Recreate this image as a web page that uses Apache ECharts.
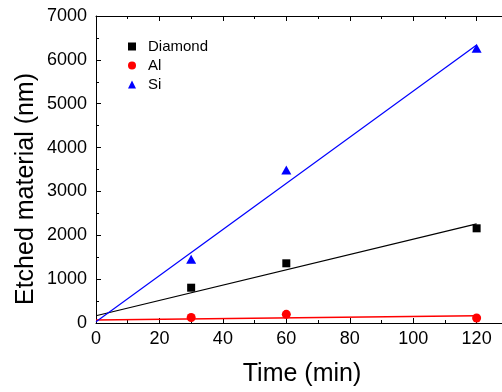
<!DOCTYPE html>
<html>
<head>
<meta charset="utf-8">
<script src="https://cdn.jsdelivr.net/npm/echarts@6/dist/echarts.min.js"></script>
<style>
  html, body { margin: 0; padding: 0; background: #fff; }
  #chart { width: 502px; height: 392px; }
</style>
</head>
<body>
<div id="chart"></div>
<script>
// Etch depth measured at each time (min)
const times = [30, 60, 120];
const diamond = [805, 1361, 2159];
const aluminium = [125, 198, 114];
const silicon = [1452, 3488, 6263];

// Linear fit end points, [time, depth]
const diamondFit = [[0, 165], [120, 2262]];
const aluminiumFit = [[0, 67], [120, 164]];
const siliconFit = [[0, 28], [120, 6340]];

const xTicks = [0, 20, 40, 60, 80, 100, 120];
const yTicks = [0, 1000, 2000, 3000, 4000, 5000, 6000, 7000];

const FONT = '"Liberation Sans", Arial, sans-serif';

function pairs(values) {
  return times.map((t, i) => [t, values[i]]);
}

const chart = echarts.init(document.getElementById('chart'), null, { renderer: 'canvas' });

const tickCommon = {
  axisLine: { show: true, onZero: false, lineStyle: { color: '#000', width: 1 } },
  axisTick: { show: true, inside: true, length: 5, lineStyle: { color: '#000', width: 1 } },
  minorTick: { show: true, splitNumber: 2, length: 3, lineStyle: { color: '#000', width: 1 } },
  splitLine: { show: false }
};

chart.setOption({
  animation: false,
  backgroundColor: '#fff',
  textStyle: { fontFamily: FONT },
  grid: { left: 96, top: 16, right: 0, bottom: 69, containLabel: false },
  xAxis: [
    Object.assign({
      type: 'value', position: 'bottom', min: 0, max: 128, interval: 20,
      axisLabel: {
        color: '#000', fontSize: 18, fontFamily: FONT, margin: 7,
        showMaxLabel: false,
        formatter: v => (xTicks.indexOf(v) >= 0 ? String(v) : '')
      }
    }, tickCommon),
    Object.assign({
      type: 'value', position: 'top', min: 0, max: 128, interval: 20,
      axisLabel: { show: false }
    }, tickCommon)
  ],
  yAxis: [
    Object.assign({
      type: 'value', position: 'left', min: 0, max: 7000, interval: 1000,
      axisLabel: {
        color: '#000', fontSize: 18, fontFamily: FONT, margin: 9,
        formatter: v => (yTicks.indexOf(v) >= 0 ? String(v) : '')
      }
    }, tickCommon)
  ],
  legend: {
    orient: 'vertical', left: 123, top: 34,
    itemWidth: 8, itemHeight: 8, itemGap: 4,
    data: ['Diamond', 'Al', 'Si'],
    textStyle: { color: '#000', fontSize: 15, fontFamily: FONT, padding: [0, 0, 0, 7] }
  },
  graphic: [
    {
      type: 'text', x: 302, y: 374,
      style: { text: 'Time (min)', fill: '#000', font: '25px ' + FONT, textAlign: 'center', textVerticalAlign: 'middle' }
    },
    {
      type: 'text', x: 26, y: 189, rotation: Math.PI / 2,
      style: { text: 'Etched material (nm)', fill: '#000', font: '25px ' + FONT, textAlign: 'center', textVerticalAlign: 'middle' }
    }
  ],
  series: [
    { name: 'Diamond fit', type: 'line', data: diamondFit, showSymbol: false, silent: true,
      lineStyle: { color: '#000', width: 1.2 }, z: 2 },
    { name: 'Al fit', type: 'line', data: aluminiumFit, showSymbol: false, silent: true,
      lineStyle: { color: '#ff0000', width: 1.4 }, z: 2 },
    { name: 'Si fit', type: 'line', data: siliconFit, showSymbol: false, silent: true,
      lineStyle: { color: '#0000ff', width: 1.2 }, z: 2 },
    { name: 'Diamond', type: 'scatter', data: pairs(diamond), symbol: 'rect', symbolSize: 8,
      itemStyle: { color: '#000', opacity: 1 }, z: 3 },
    { name: 'Al', type: 'scatter', data: pairs(aluminium), symbol: 'circle', symbolSize: 9,
      itemStyle: { color: '#ff0000', opacity: 1 }, z: 3 },
    { name: 'Si', type: 'scatter', data: pairs(silicon), symbol: 'triangle', symbolSize: [10, 9],
      itemStyle: { color: '#0000ff', opacity: 1 }, z: 3 }
  ]
});
</script>
</body>
</html>
